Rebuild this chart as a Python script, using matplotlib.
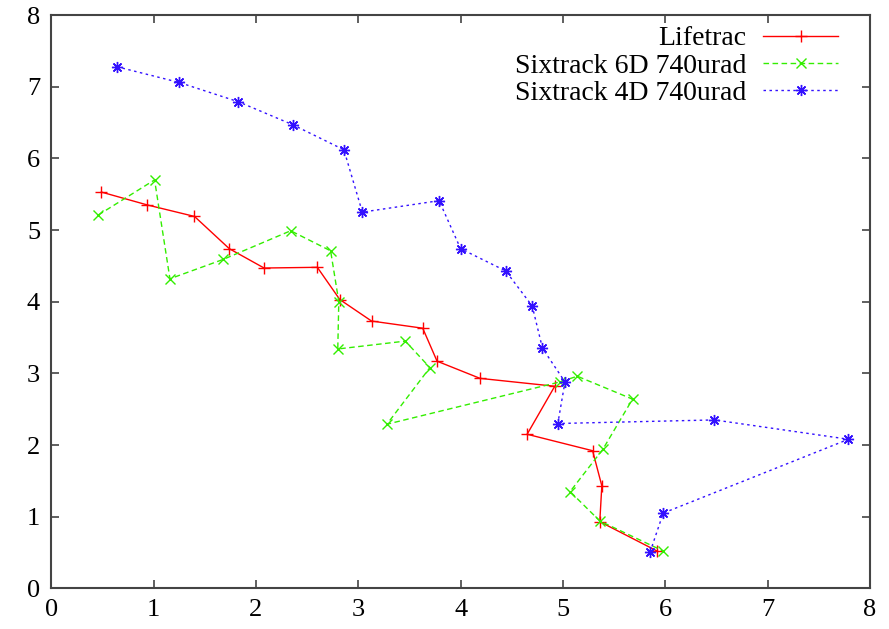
import numpy as np
import matplotlib
matplotlib.use("Agg")
import matplotlib.pyplot as plt

plt.rcParams.update({"font.family": "Liberation Serif", "font.size": 19})

# ---------------------------------------------------------------------------
# Data
# ---------------------------------------------------------------------------
lifetrac_x = [0.49, 0.94, 1.40, 1.74, 2.08, 2.60, 2.82, 3.13, 3.63, 3.77,
              4.19, 4.92, 4.65, 5.29, 5.38, 5.36, 5.92]
lifetrac_y = [5.53, 5.35, 5.19, 4.74, 4.47, 4.48, 4.03, 3.73, 3.63, 3.17,
              2.93, 2.82, 2.15, 1.92, 1.43, 0.93, 0.52]

six6d_x = [0.46, 1.01, 1.16, 1.68, 2.34, 2.73, 2.81, 2.80, 3.46, 3.70,
           3.28, 4.97, 5.14, 5.68, 5.39, 5.07, 5.36, 5.98]
six6d_y = [5.21, 5.70, 4.32, 4.59, 4.99, 4.71, 4.00, 3.34, 3.45, 3.08,
           2.29, 2.88, 2.96, 2.64, 1.94, 1.35, 0.94, 0.52]

six4d_x = [0.64, 1.25, 1.83, 2.36, 2.86, 3.04, 3.79, 4.00, 4.44, 4.70,
           4.80, 5.02, 4.95, 6.48, 7.79, 5.98, 5.85]
six4d_y = [7.28, 7.06, 6.79, 6.47, 6.12, 5.25, 5.41, 4.74, 4.43, 3.94,
           3.35, 2.88, 2.30, 2.35, 2.08, 1.05, 0.50]

ticks = list(range(0, 9))

# ---------------------------------------------------------------------------
# Plot
# ---------------------------------------------------------------------------
fig = plt.figure(figsize=(8.89, 6.29), dpi=100)
ax = fig.add_axes([0.0576, 0.0647, 0.921, 0.9113])

ax.plot(lifetrac_x, lifetrac_y, "-", color="#ff0000", lw=1.0,
        marker="+", ms=9, mew=1.0, label="Lifetrac")
ax.plot(six6d_x, six6d_y, color="#33ee00", lw=1.0, dashes=(4, 2.5),
        marker="x", ms=7.5, mew=1.0, label="Sixtrack 6D 740urad")
ax.plot(six4d_x, six4d_y, color="#3311ff", lw=1.0, dashes=(1.8, 2.5),
        marker=(8, 2, 0), ms=8, mew=1.0, label="Sixtrack 4D 740urad")

ax.set_xlim(0, 8)
ax.set_ylim(0, 8)
ax.set_xticks(ticks)
ax.set_yticks(ticks)
ax.tick_params(direction="in", length=6, width=1.2, top=True, right=True,
               pad=8, colors="#444444", labelcolor="black")
for sp in ax.spines.values():
    sp.set_color("#444444")
    sp.set_linewidth(1.5)

# gnuplot-style key: text on the left, sample on the right
ax.legend(loc="upper right", bbox_to_anchor=(0.961, 0.981), frameon=False,
          markerfirst=False, handlelength=2.7, labelspacing=0.06,
          handletextpad=0.6, borderaxespad=0.0, borderpad=0.0,
          fontsize=20)

fig.savefig("out.png", dpi=100)
